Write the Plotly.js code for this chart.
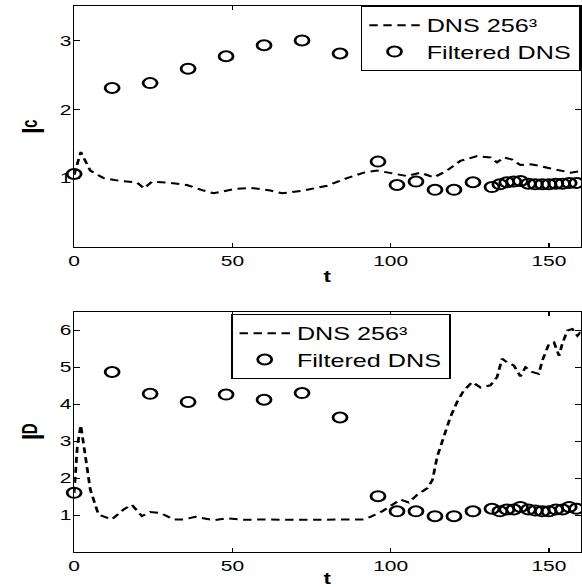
<!DOCTYPE html>
<html>
<head>
<meta charset="utf-8">
<script src="https://cdn.plot.ly/plotly-3.0.1.min.js"></script>
<style>
html,body{margin:0;padding:0;overflow:hidden;background:#fff;}
#wrap{width:582px;height:587px;overflow:hidden;}
#chart{width:416px;height:587px;transform:scaleX(1.399);transform-origin:0 0;}
</style>
</head>
<body>
<div id="wrap"><div id="chart"></div></div>
<script>
// Filtered DNS sample times and values
var filteredT = [0,12,24,36,48,60,72,84,96,102,108,114,120,126,132,134.5,136.7,138.9,141,143.5,145.7,147.9,150,152.2,154.3,156.4,158.7];
var filteredIc = [1.06,2.31,2.38,2.59,2.77,2.93,3.00,2.81,1.24,0.90,0.95,0.83,0.83,0.94,0.87,0.91,0.94,0.95,0.96,0.92,0.91,0.91,0.91,0.92,0.92,0.93,0.93];
var filteredID = [1.60,4.87,4.28,4.06,4.26,4.12,4.30,3.64,1.51,1.10,1.10,0.97,0.97,1.10,1.17,1.10,1.15,1.15,1.22,1.15,1.12,1.10,1.10,1.15,1.15,1.22,1.17];

// DNS 256^3 curve, top panel
var dnsTc = [0,2.1,5.1,9.3,14.5,19.8,22.1,24.6,30.4,35.6,40.9,44.1,50.4,55.7,62,65.7,72.5,79.9,86.2,91.5,95.7,99.9,105.2,109.4,113.6,117.8,122,127.3,131.5,133.6,135.8,138.4,141,144.2,146.8,150.5,153.7,156.8,160];
var dnsIc = [1.05,1.38,1.11,1.00,0.96,0.94,0.85,0.95,0.93,0.90,0.82,0.78,0.84,0.86,0.82,0.78,0.82,0.89,1.00,1.08,1.11,1.07,1.03,1.08,1.01,1.11,1.25,1.32,1.30,1.23,1.30,1.27,1.19,1.20,1.18,1.14,1.11,1.08,1.10];

// DNS 256^3 curve, bottom panel
var dnsTD = [0,1,2.1,3.5,5.1,7.7,11.9,15.6,18.2,21.4,24,27.2,31.4,34.6,38.3,44.1,48.3,53.6,60,67.4,79,91.5,93.6,97.3,99.9,103.1,105.7,108.4,110,111.6,113.2,114.7,116.8,118.9,121,123.1,125.8,128.4,131.5,133.6,135.2,136.8,138.9,141,142.6,144.7,146.8,147.9,150,151.6,153.2,154.2,155.8,157.4,159,160];
var dnsID = [1.6,2.85,3.43,2.67,1.69,1.01,0.88,1.15,1.28,0.97,1.08,1.06,0.88,0.88,0.95,0.86,0.91,0.87,0.88,0.87,0.87,0.88,0.95,1.10,1.24,1.42,1.34,1.55,1.64,1.73,1.95,2.58,3.12,3.66,4.06,4.37,4.60,4.45,4.51,4.73,5.23,5.13,5.05,4.75,5.00,4.87,4.82,5.18,5.63,5.67,5.31,5.63,5.99,6.03,5.85,5.95];

var xTicks = [0,50,100,150];
var yTicksTop = [1,2,3];
var yTicksBottom = [1,2,3,4,5,6];
var dnsName = 'DNS 256\u00B3';
var filtName = 'Filtered DNS';
var yLabelTop = 'I\u1D9C';
var yLabelBottom = 'I\u1D30';

var lineStyle = {color:'black', width:2, dash:'6px,4px'};
var markerStyle = {symbol:'circle-open', size:10, color:'black', line:{color:'black', width:2}};

var traces = [
  {x:dnsTc, y:dnsIc, mode:'lines', name:dnsName, line:lineStyle, xaxis:'x', yaxis:'y', legend:'legend'},
  {x:filteredT, y:filteredIc, mode:'markers', name:filtName, marker:markerStyle, xaxis:'x', yaxis:'y', legend:'legend', cliponaxis:false},
  {x:dnsTD, y:dnsID, mode:'lines', name:dnsName, line:lineStyle, xaxis:'x2', yaxis:'y2', legend:'legend2'},
  {x:filteredT, y:filteredID, mode:'markers', name:filtName, marker:markerStyle, xaxis:'x2', yaxis:'y2', legend:'legend2', cliponaxis:false}
];

var fontFam = '"Liberation Sans", Arial, sans-serif';
function xax(anchor){
  return {anchor:anchor, range:[0,160], tickvals:xTicks, ticktext:xTicks.map(String),
    ticks:'inside', ticklen:4, tickcolor:'black', showline:true, mirror:'ticks', linecolor:'black', linewidth:1,
    showgrid:false, zeroline:false, tickfont:{family:fontFam, size:15, color:'black'},
    title:{text:'t', font:{family:fontFam, size:16, color:'black', weight:'bold'}, standoff:2}};
}
function yax(anchor, dom, rng, tv, label){
  return {anchor:anchor, domain:dom, range:rng, tickvals:tv, ticktext:tv.map(String),
    ticks:'inside', ticklen:4, tickcolor:'black', showline:true, mirror:'ticks', linecolor:'black', linewidth:1,
    showgrid:false, zeroline:false, tickfont:{family:fontFam, size:15, color:'black'},
    ticklabelstandoff:-2,
    title:{text:label, font:{family:fontFam, size:22, color:'black', weight:'bold'}, standoff:4}};
}

var legendFont = {family:fontFam, size:18, color:'black'};
var layout = {
  width:416, height:587,
  margin:{l:53, r:1, t:6, b:35},
  paper_bgcolor:'white', plot_bgcolor:'white',
  font:{family:fontFam, color:'black'},
  xaxis: xax('y'),
  yaxis: yax('x', [0.5586,1], [0,3.5], yTicksTop, yLabelTop),
  xaxis2: xax('y2'),
  yaxis2: yax('x2', [0,0.44], [0,6.5], yTicksBottom, yLabelBottom),
  legend:{x:1, xanchor:'right', y:1, yanchor:'top', bgcolor:'white', bordercolor:'black', borderwidth:1,
    font:legendFont, tracegroupgap:0, itemwidth:36},
  legend2:{x:0.31, xanchor:'left', y:0.436, yanchor:'top', bgcolor:'white', bordercolor:'black', borderwidth:1,
    font:legendFont, tracegroupgap:0, itemwidth:36},
  showlegend:true
};

Plotly.newPlot('chart', traces, layout, {staticPlot:true, displayModeBar:false});
</script>
</body>
</html>
